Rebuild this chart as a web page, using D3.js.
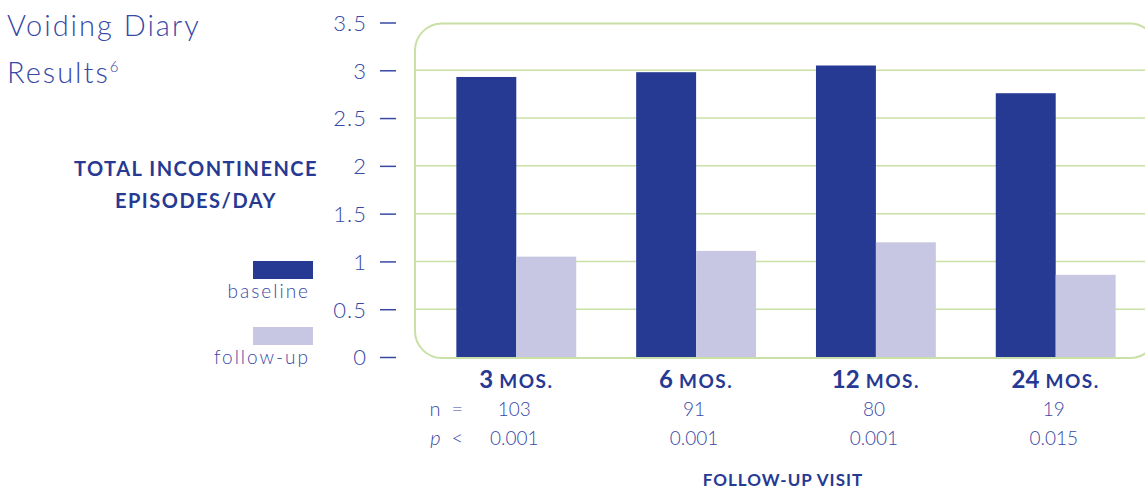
<!DOCTYPE html>
<html>
<head>
<meta charset="utf-8">
<script src="https://cdn.jsdelivr.net/npm/d3@7"></script>
<style>
  html, body { margin: 0; padding: 0; background: #fff; }
  svg { display: block; }
  .thin { font-family: Lato, "Open Sans", sans-serif; font-weight: 300; }
  .bold { font-family: Lato, "Open Sans", sans-serif; font-weight: 700; }
</style>
</head>
<body>
<svg id="chart" width="1145" height="490"></svg>
<script>
// Follow-up visits and voiding diary results
const visits = ["3", "6", "12", "24"];
const baseline = [2.93, 2.98, 3.05, 2.76];
const followUp = [1.05, 1.11, 1.20, 0.86];
const nValues = ["103", "91", "80", "19"];
const pValues = ["0.001", "0.001", "0.001", "0.015"];
const yTicks = [0, 0.5, 1, 1.5, 2, 2.5, 3, 3.5];
const seriesNames = ["baseline", "follow-up"];

const navy = "#263993";
const lilac = "#c7c7e4";
const textBlue = "#3848a6";
const green = "#c9e0a6";

const svg = d3.select("#chart");

const y = d3.scaleLinear().domain([0, 3.5]).range([357, 22.5]);
const x = d3.scaleBand().domain(visits).range([415, 1157])
  .paddingInner(1 / 3).paddingOuter(0.23);
const xs = d3.scaleBand().domain(seriesNames).range([0, x.bandwidth()]);
const color = d3.scaleOrdinal().domain(seriesNames).range([navy, lilac]);

// Rounded plot frame
svg.append("rect")
  .attr("x", 415).attr("y", y(3.5) + 1)
  .attr("width", 1157 - 415).attr("height", y(0) - y(3.5))
  .attr("rx", 27).attr("ry", 27)
  .attr("fill", "none").attr("stroke", green).attr("stroke-width", 2);

// Gridlines
svg.append("g").selectAll("line")
  .data(yTicks.filter(d => d > 0 && d < 3.5))
  .join("line")
  .attr("x1", 415).attr("x2", 1157)
  .attr("y1", d => y(d)).attr("y2", d => y(d))
  .attr("stroke", green).attr("stroke-width", 1.5);

// Y axis ticks
const yAxis = svg.append("g")
  .attr("transform", "translate(396,0)")
  .call(d3.axisLeft(y).tickValues(yTicks).tickSize(16).tickPadding(13)
    .tickFormat(d => String(d)));
yAxis.select(".domain").remove();
yAxis.selectAll(".tick line").attr("stroke", textBlue).attr("stroke-width", 1.5);
yAxis.selectAll(".tick text")
  .attr("class", "thin")
  .attr("fill", textBlue)
  .style("font-size", "22px")
  .style("letter-spacing", "1px")
  .attr("dy", "0.36em");

// Bars
const groups = svg.append("g").selectAll("g")
  .data(visits.map((v, i) => ({ v, vals: [baseline[i], followUp[i]] })))
  .join("g")
  .attr("transform", d => `translate(${x(d.v)},0)`);
groups.selectAll("rect")
  .data(d => d.vals.map((val, j) => ({ s: seriesNames[j], val })))
  .join("rect")
  .attr("x", d => xs(d.s))
  .attr("width", xs.bandwidth())
  .attr("y", d => y(d.val))
  .attr("height", d => y(0) - y(d.val))
  .attr("fill", d => color(d.s));

// Category labels, n and p rows
const cx = v => x(v) + x.bandwidth() / 2;
const cat = svg.append("g").selectAll("text").data(visits).join("text")
  .attr("class", "bold")
  .attr("x", cx).attr("y", 388)
  .attr("text-anchor", "middle")
  .attr("fill", navy);
cat.append("tspan").style("font-size", "24px").text(d => d);
cat.append("tspan").style("font-size", "19px").style("letter-spacing", "1.5px").text(" MOS.");

svg.append("g").selectAll("text").data(visits).join("text")
  .attr("class", "thin")
  .attr("x", v => cx(v) - 2).attr("y", 416)
  .attr("text-anchor", "middle")
  .attr("fill", textBlue).style("font-size", "19px")
  .text((d, i) => nValues[i]);
svg.append("g").selectAll("text").data(visits).join("text")
  .attr("class", "thin")
  .attr("x", v => cx(v) - 2).attr("y", 445)
  .attr("text-anchor", "middle")
  .attr("fill", textBlue).style("font-size", "19px")
  .text((d, i) => pValues[i]);

// Row labels for n and p
svg.append("text").attr("class", "thin")
  .attr("x", 463).attr("y", 416)
  .attr("text-anchor", "end")
  .attr("fill", textBlue).style("font-size", "20px")
  .style("white-space", "pre")
  .text("n  =");
const pl = svg.append("text").attr("class", "thin")
  .attr("x", 463).attr("y", 445)
  .attr("text-anchor", "end")
  .attr("fill", textBlue).style("font-size", "20px")
  .style("white-space", "pre");
pl.append("tspan").style("font-style", "italic").text("p");
pl.append("tspan").text("  <");

// X axis title
svg.append("text").attr("class", "bold")
  .attr("x", 783).attr("y", 486)
  .attr("text-anchor", "middle")
  .attr("fill", navy).style("font-size", "17px").style("letter-spacing", "1px")
  .text("FOLLOW-UP VISIT");

// Title
const title = svg.append("g").attr("class", "thin").attr("fill", textBlue);
title.append("text").attr("x", 7).attr("y", 36)
  .style("font-size", "29px").style("letter-spacing", "2px")
  .text("Voiding Diary");
const t2 = title.append("text").attr("x", 7).attr("y", 83)
  .style("font-size", "29px").style("letter-spacing", "2px");
t2.append("tspan").text("Results");
t2.append("tspan").attr("dy", -11).style("font-size", "15px").text("6");

// Y axis title
const ytitle = svg.append("text").attr("class", "bold")
  .attr("text-anchor", "middle").attr("fill", navy)
  .style("font-size", "20px").style("letter-spacing", "1.5px");
ytitle.append("tspan").attr("x", 196).attr("y", 176).text("TOTAL INCONTINENCE");
ytitle.append("tspan").attr("x", 196).attr("y", 208).text("EPISODES/DAY");

// Legend
const legend = svg.append("g").selectAll("g").data(seriesNames).join("g")
  .attr("transform", (d, i) => `translate(0,${i * 66})`);
legend.append("rect")
  .attr("x", 253).attr("y", 261).attr("width", 60).attr("height", 18)
  .attr("fill", d => color(d));
legend.append("text").attr("class", "thin")
  .attr("x", 310).attr("y", 298)
  .attr("text-anchor", "end")
  .attr("fill", textBlue).style("font-size", "19px").style("letter-spacing", "2px")
  .text(d => d);
</script>
</body>
</html>
